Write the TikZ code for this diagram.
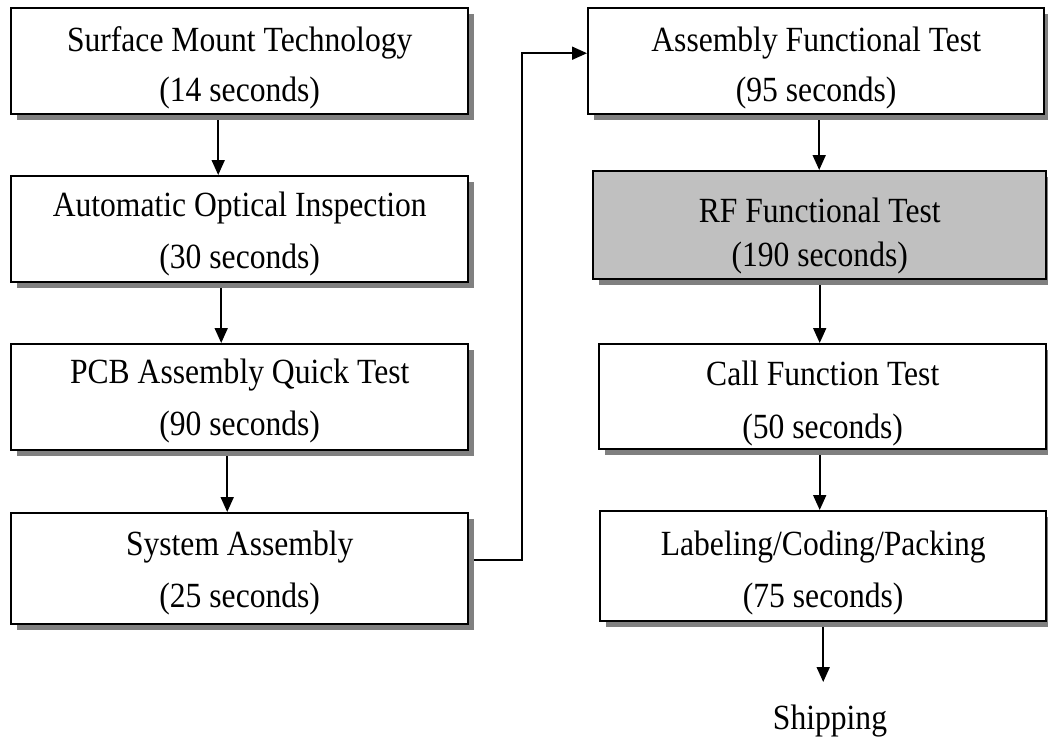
\documentclass[tikz,border=0pt]{standalone}
\usepackage{fontspec}
\usepackage{graphicx}
\setmainfont{Liberation Serif}
\usetikzlibrary{arrows.meta,calc}
\definecolor{shadowgray}{HTML}{808080}
\definecolor{rfgray}{HTML}{C0C0C0}
\pgfdeclarelayer{bg}
\pgfsetlayers{bg,main}
\newcommand\tallt[1]{\scalebox{1}[1.12]{#1}}
\begin{document}
\begin{tikzpicture}[x=1pt,y=-1pt,
  stagebox/.style={draw=black, line width=2.4pt, fill=white, inner sep=0pt, anchor=north west,
    preaction={fill=shadowgray, draw=none, transform canvas={shift={(6pt,-6pt)}}}},
  txt/.style={font=\fontsize{31.6}{38}\selectfont, anchor=base, inner sep=0pt},
  flow/.style={line width=1.8pt, -{Triangle[length=15pt,width=13pt]}}]
\useasboundingbox (0,0) rectangle (1048,740);
% left column
\node[stagebox, minimum width=457pt, minimum height=106pt] (smt) at (10,7) {};
\node[txt] (smt-a) at ($(smt.north)+(0,44)$) {\tallt{Surface Mount Technology}};
\begin{scope}
\clip (smt.north west) rectangle ([yshift=7pt]smt.south east);
\node[txt] (smt-b) at ($(smt.north)+(0,94)$) {\tallt{(14 seconds)}};
\end{scope}
\node[stagebox, minimum width=457pt, minimum height=106pt] (aoi) at (10,175) {};
\node[txt] (aoi-a) at ($(aoi.north)+(0,41)$) {\tallt{Automatic Optical Inspection}};
\node[txt] (aoi-b) at ($(aoi.north)+(0,93)$) {\tallt{(30 seconds)}};
\node[stagebox, minimum width=457pt, minimum height=106pt] (pcb) at (10,343) {};
\node[txt] (pcb-a) at ($(pcb.north)+(0,40)$) {\tallt{PCB Assembly Quick Test}};
\node[txt] (pcb-b) at ($(pcb.north)+(0,92)$) {\tallt{(90 seconds)}};
\node[stagebox, minimum width=457pt, minimum height=111pt] (sys) at (10,512) {};
\node[txt] (sys-a) at ($(sys.north)+(0,43)$) {\tallt{System Assembly}};
\node[txt] (sys-b) at ($(sys.north)+(0,95)$) {\tallt{(25 seconds)}};
% right column
\node[stagebox, minimum width=456pt, minimum height=106pt] (aft) at (587,7) {};
\node[txt] (aft-a) at ($(aft.north)+(0,44)$) {\tallt{Assembly Functional Test}};
\begin{scope}
\clip (aft.north west) rectangle ([yshift=7pt]aft.south east);
\node[txt] (aft-b) at ($(aft.north)+(0,94)$) {\tallt{(95 seconds)}};
\end{scope}
\node[stagebox, fill=rfgray, minimum width=453pt, minimum height=108pt] (rf) at (592,170) {};
\node[txt] (rf-a) at ($(rf.north)+(0,52)$) {\tallt{RF Functional Test}};
\node[txt] (rf-b) at ($(rf.north)+(0,96)$) {\tallt{(190 seconds)}};
\node[stagebox, minimum width=447pt, minimum height=105pt] (cft) at (598,343) {};
\node[txt] (cft-a) at ($(cft.north)+(0,42)$) {\tallt{Call Function Test}};
\node[txt] (cft-b) at ($(cft.north)+(0,95)$) {\tallt{(50 seconds)}};
\node[stagebox, minimum width=446pt, minimum height=110pt] (lab) at (599,510) {};
\node[txt] (lab-a) at ($(lab.north)+(0,45)$) {\tallt{Labeling/Coding/Packing}};
\node[txt] (lab-b) at ($(lab.north)+(0,97)$) {\tallt{(75 seconds)}};
\node[txt] (ship) at (830,729) {\tallt{Shipping}};
\coordinate (shipin) at (822,682);
\coordinate (jog) at (522,560);
% connectors
\begin{pgfonlayer}{bg}
\draw[flow] ([xshift=-21.5pt]smt.south) -- ([xshift=-21.5pt]aoi.north);
\draw[flow] ([xshift=-18.5pt]aoi.south) -- ([xshift=-18.5pt]pcb.north);
\draw[flow] ([xshift=-12.5pt]pcb.south) -- ([xshift=-12.5pt]sys.north);
\draw[flow] ([xshift=3pt]aft.south) -- ([xshift=3pt]aft.south |- rf.north);
\draw[flow] (rf.south) -- (rf.south |- cft.north);
\draw[flow] ([xshift=-3pt]cft.south) -- ([xshift=-3pt]cft.south |- lab.north);
\draw[flow] (lab.south) -- (lab.south |- shipin);
\draw[flow] (sys.east |- jog) -- (jog) |- ([yshift=8pt]aft.west);
\end{pgfonlayer}
\end{tikzpicture}
\end{document}
